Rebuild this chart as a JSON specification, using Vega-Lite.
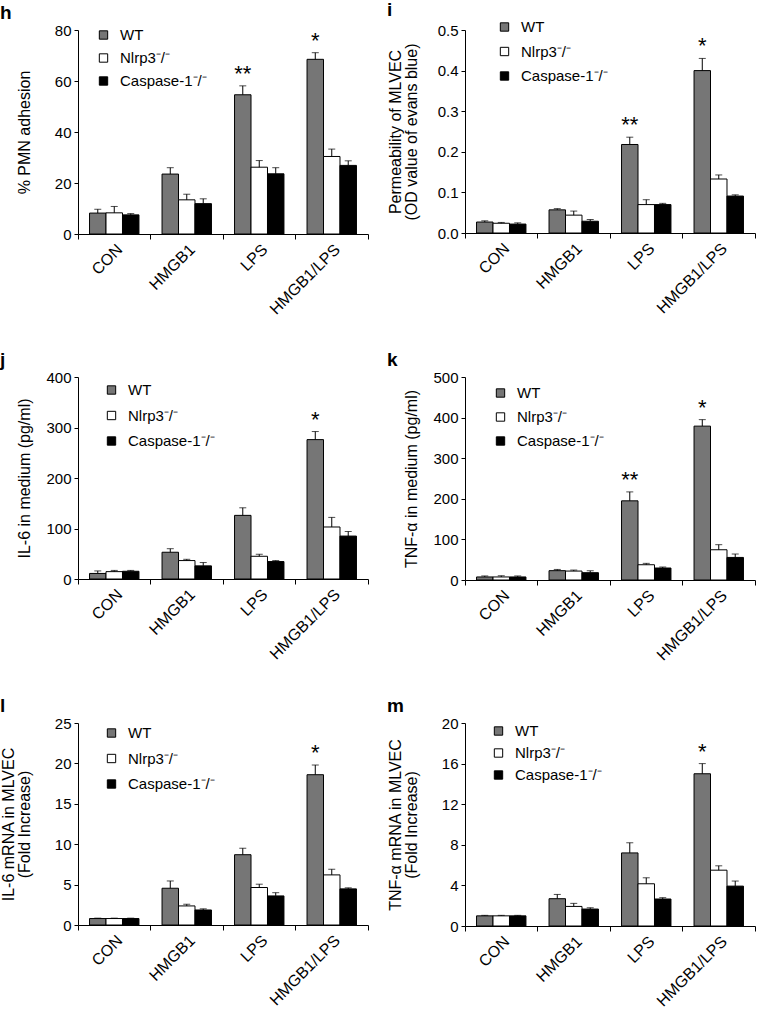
{
  "$schema": "https://vega.github.io/schema/vega-lite/v6.json",
  "background": "white",
  "padding": {"left": 0, "top": 0, "right": 0, "bottom": 0},
  "config": {
    "font": "Liberation Sans",
    "view": {"stroke": null},
    "axis": {"grid": false, "domainColor": "black", "tickColor": "black", "labelColor": "black", "titleColor": "black", "titleFontWeight": "normal", "domainWidth": 1, "tickWidth": 1},
    "title": {"color": "black"}
  },
  "datasets": {
    "h": [
      {"t": "CON", "g": "WT", "v": 8.2, "hi": 9.7},
      {"t": "CON", "g": "Nlrp3⁻/⁻", "v": 8.3, "hi": 10.8},
      {"t": "CON", "g": "Caspase-1⁻/⁻", "v": 7.5, "hi": 8.0},
      {"t": "HMGB1", "g": "WT", "v": 23.5, "hi": 26.0},
      {"t": "HMGB1", "g": "Nlrp3⁻/⁻", "v": 13.4, "hi": 15.6},
      {"t": "HMGB1", "g": "Caspase-1⁻/⁻", "v": 11.9, "hi": 13.8},
      {"t": "LPS", "g": "WT", "v": 54.6, "hi": 58.1, "sig": "**"},
      {"t": "LPS", "g": "Nlrp3⁻/⁻", "v": 26.2, "hi": 28.8},
      {"t": "LPS", "g": "Caspase-1⁻/⁻", "v": 23.6, "hi": 26.0},
      {"t": "HMGB1/LPS", "g": "WT", "v": 68.5, "hi": 71.1, "sig": "*"},
      {"t": "HMGB1/LPS", "g": "Nlrp3⁻/⁻", "v": 30.4, "hi": 33.3},
      {"t": "HMGB1/LPS", "g": "Caspase-1⁻/⁻", "v": 26.9, "hi": 28.7}
    ],
    "i": [
      {"t": "CON", "g": "WT", "v": 0.027, "hi": 0.030},
      {"t": "CON", "g": "Nlrp3⁻/⁻", "v": 0.024, "hi": 0.026},
      {"t": "CON", "g": "Caspase-1⁻/⁻", "v": 0.022, "hi": 0.025},
      {"t": "HMGB1", "g": "WT", "v": 0.057, "hi": 0.060},
      {"t": "HMGB1", "g": "Nlrp3⁻/⁻", "v": 0.044, "hi": 0.054},
      {"t": "HMGB1", "g": "Caspase-1⁻/⁻", "v": 0.029, "hi": 0.033},
      {"t": "LPS", "g": "WT", "v": 0.218, "hi": 0.236, "sig": "**"},
      {"t": "LPS", "g": "Nlrp3⁻/⁻", "v": 0.070, "hi": 0.082},
      {"t": "LPS", "g": "Caspase-1⁻/⁻", "v": 0.070, "hi": 0.073},
      {"t": "HMGB1/LPS", "g": "WT", "v": 0.400, "hi": 0.430, "sig": "*"},
      {"t": "HMGB1/LPS", "g": "Nlrp3⁻/⁻", "v": 0.133, "hi": 0.143},
      {"t": "HMGB1/LPS", "g": "Caspase-1⁻/⁻", "v": 0.091, "hi": 0.094}
    ],
    "j": [
      {"t": "CON", "g": "WT", "v": 11, "hi": 16},
      {"t": "CON", "g": "Nlrp3⁻/⁻", "v": 14.6, "hi": 17},
      {"t": "CON", "g": "Caspase-1⁻/⁻", "v": 15.3, "hi": 17},
      {"t": "HMGB1", "g": "WT", "v": 53, "hi": 60},
      {"t": "HMGB1", "g": "Nlrp3⁻/⁻", "v": 36.5, "hi": 39},
      {"t": "HMGB1", "g": "Caspase-1⁻/⁻", "v": 26, "hi": 32.6},
      {"t": "LPS", "g": "WT", "v": 126, "hi": 141},
      {"t": "LPS", "g": "Nlrp3⁻/⁻", "v": 45, "hi": 49},
      {"t": "LPS", "g": "Caspase-1⁻/⁻", "v": 34.5, "hi": 36.5},
      {"t": "HMGB1/LPS", "g": "WT", "v": 276, "hi": 292, "sig": "*"},
      {"t": "HMGB1/LPS", "g": "Nlrp3⁻/⁻", "v": 103, "hi": 122},
      {"t": "HMGB1/LPS", "g": "Caspase-1⁻/⁻", "v": 85, "hi": 94}
    ],
    "k": [
      {"t": "CON", "g": "WT", "v": 7.5, "hi": 10},
      {"t": "CON", "g": "Nlrp3⁻/⁻", "v": 7.5, "hi": 10.5},
      {"t": "CON", "g": "Caspase-1⁻/⁻", "v": 7.5, "hi": 10},
      {"t": "HMGB1", "g": "WT", "v": 23, "hi": 26},
      {"t": "HMGB1", "g": "Nlrp3⁻/⁻", "v": 22, "hi": 24.5},
      {"t": "HMGB1", "g": "Caspase-1⁻/⁻", "v": 18, "hi": 22.5},
      {"t": "LPS", "g": "WT", "v": 195, "hi": 217, "sig": "**"},
      {"t": "LPS", "g": "Nlrp3⁻/⁻", "v": 37.6, "hi": 41},
      {"t": "LPS", "g": "Caspase-1⁻/⁻", "v": 29.5, "hi": 32},
      {"t": "HMGB1/LPS", "g": "WT", "v": 379, "hi": 395, "sig": "*"},
      {"t": "HMGB1/LPS", "g": "Nlrp3⁻/⁻", "v": 74.5, "hi": 87},
      {"t": "HMGB1/LPS", "g": "Caspase-1⁻/⁻", "v": 55.6, "hi": 64}
    ],
    "l": [
      {"t": "CON", "g": "WT", "v": 0.8, "hi": 0.85},
      {"t": "CON", "g": "Nlrp3⁻/⁻", "v": 0.8, "hi": 0.85},
      {"t": "CON", "g": "Caspase-1⁻/⁻", "v": 0.8, "hi": 0.85},
      {"t": "HMGB1", "g": "WT", "v": 4.55, "hi": 5.45},
      {"t": "HMGB1", "g": "Nlrp3⁻/⁻", "v": 2.36, "hi": 2.57},
      {"t": "HMGB1", "g": "Caspase-1⁻/⁻", "v": 1.86, "hi": 2.0},
      {"t": "LPS", "g": "WT", "v": 8.7, "hi": 9.5},
      {"t": "LPS", "g": "Nlrp3⁻/⁻", "v": 4.64, "hi": 5.05},
      {"t": "LPS", "g": "Caspase-1⁻/⁻", "v": 3.6, "hi": 4.0},
      {"t": "HMGB1/LPS", "g": "WT", "v": 18.6, "hi": 19.8, "sig": "*"},
      {"t": "HMGB1/LPS", "g": "Nlrp3⁻/⁻", "v": 6.2, "hi": 6.9},
      {"t": "HMGB1/LPS", "g": "Caspase-1⁻/⁻", "v": 4.47, "hi": 4.6}
    ],
    "m": [
      {"t": "CON", "g": "WT", "v": 1.0, "hi": 1.05},
      {"t": "CON", "g": "Nlrp3⁻/⁻", "v": 1.0, "hi": 1.05},
      {"t": "CON", "g": "Caspase-1⁻/⁻", "v": 1.0, "hi": 1.05},
      {"t": "HMGB1", "g": "WT", "v": 2.69, "hi": 3.11},
      {"t": "HMGB1", "g": "Nlrp3⁻/⁻", "v": 1.93, "hi": 2.23},
      {"t": "HMGB1", "g": "Caspase-1⁻/⁻", "v": 1.67, "hi": 1.8},
      {"t": "LPS", "g": "WT", "v": 7.2, "hi": 8.2},
      {"t": "LPS", "g": "Nlrp3⁻/⁻", "v": 4.16, "hi": 4.75},
      {"t": "LPS", "g": "Caspase-1⁻/⁻", "v": 2.66, "hi": 2.79},
      {"t": "HMGB1/LPS", "g": "WT", "v": 15.0, "hi": 16.0, "sig": "*"},
      {"t": "HMGB1/LPS", "g": "Nlrp3⁻/⁻", "v": 5.5, "hi": 5.93},
      {"t": "HMGB1/LPS", "g": "Caspase-1⁻/⁻", "v": 3.93, "hi": 4.43}
    ]
  },
  "columns": 2,
  "spacing": {"row": 33, "column": 18},
  "resolve": {"scale": {"fill": "independent"}, "legend": {"fill": "independent"}},
  "concat": [
    {
      "title": {"text": "h", "anchor": "start", "frame": "group", "dx": -78, "offset": 0, "fontSize": 19, "fontWeight": "bold"},
      "width": 290, "height": 204,
      "data": {"name": "h"},
      "encoding": {
        "x": {"field": "t", "type": "nominal", "sort": ["CON", "HMGB1", "LPS", "HMGB1/LPS"], "scale": {"paddingInner": 0, "paddingOuter": 0}, "axis": {"title": null, "labelAngle": -45, "labelFontSize": 16, "tickSize": 5, "bandPosition": 1, "tickExtra": true, "labelPadding": 2}},
        "xOffset": {"field": "g", "type": "nominal", "sort": ["WT", "Nlrp3⁻/⁻", "Caspase-1⁻/⁻"], "scale": {"paddingInner": 0, "paddingOuter": 0.7}}
      },
      "layer": [
        {"mark": {"type": "bar", "stroke": "black", "strokeWidth": 1},
         "encoding": {
           "y": {"field": "v", "type": "quantitative", "scale": {"domain": [0, 80], "nice": false}, "axis": {"title": "% PMN adhesion", "values": [0, 20, 40, 60, 80], "tickSize": 4, "labelPadding": 3, "labelFontSize": 15, "minExtent": 34, "maxExtent": 34, "titleFontSize": 16, "titlePadding": 12}},
           "fill": {"field": "g", "type": "nominal", "scale": {"domain": ["WT", "Nlrp3⁻/⁻", "Caspase-1⁻/⁻"], "range": ["#767676", "#ffffff", "#000000"]}, "legend": {"orient": "none", "legendX": 18, "legendY": -2.5, "title": null, "symbolType": "square", "symbolSize": 70, "symbolStrokeColor": "black", "symbolStrokeWidth": 1, "labelFontSize": 15, "rowPadding": 7, "labelOffset": 9, "labelColor": "black"}}
         }},
        {"mark": {"type": "rule", "color": "black", "strokeWidth": 1}, "encoding": {"y": {"field": "v", "type": "quantitative"}, "y2": {"field": "hi"}}},
        {"mark": {"type": "tick", "color": "black", "thickness": 1, "size": 7}, "encoding": {"y": {"field": "hi", "type": "quantitative"}}},
        {"transform": [{"filter": "datum.sig"}], "mark": {"type": "text", "fontSize": 22, "baseline": "bottom", "dy": 0, "color": "black"}, "encoding": {"y": {"field": "hi", "type": "quantitative"}, "text": {"field": "sig"}}}
      ]
    },
    {
      "title": {"text": "i", "anchor": "start", "frame": "group", "dx": -78, "offset": 0, "fontSize": 19, "fontWeight": "bold"},
      "width": 290, "height": 203,
      "data": {"name": "i"},
      "encoding": {
        "x": {"field": "t", "type": "nominal", "sort": ["CON", "HMGB1", "LPS", "HMGB1/LPS"], "scale": {"paddingInner": 0, "paddingOuter": 0}, "axis": {"title": null, "labelAngle": -45, "labelFontSize": 16, "tickSize": 5, "bandPosition": 1, "tickExtra": true, "labelPadding": 2}},
        "xOffset": {"field": "g", "type": "nominal", "sort": ["WT", "Nlrp3⁻/⁻", "Caspase-1⁻/⁻"], "scale": {"paddingInner": 0, "paddingOuter": 0.7}}
      },
      "layer": [
        {"mark": {"type": "bar", "stroke": "black", "strokeWidth": 1},
         "encoding": {
           "y": {"field": "v", "type": "quantitative", "scale": {"domain": [0, 0.5], "nice": false}, "axis": {"title": ["Permeability of MLVEC", "(OD value of evans blue)"], "values": [0, 0.1, 0.2, 0.3, 0.4, 0.5], "format": ".1f", "tickSize": 4, "labelPadding": 3, "labelFontSize": 15, "minExtent": 34, "maxExtent": 34, "titleFontSize": 16, "titleLineHeight": 16, "titlePadding": 12}},
           "fill": {"field": "g", "type": "nominal", "scale": {"domain": ["WT", "Nlrp3⁻/⁻", "Caspase-1⁻/⁻"], "range": ["#767676", "#ffffff", "#000000"]}, "legend": {"orient": "none", "legendX": 32, "legendY": -10.5, "title": null, "symbolType": "square", "symbolSize": 70, "symbolStrokeColor": "black", "symbolStrokeWidth": 1, "labelFontSize": 15, "rowPadding": 8.5, "labelOffset": 9, "labelColor": "black"}}
         }},
        {"mark": {"type": "rule", "color": "black", "strokeWidth": 1}, "encoding": {"y": {"field": "v", "type": "quantitative"}, "y2": {"field": "hi"}}},
        {"mark": {"type": "tick", "color": "black", "thickness": 1, "size": 7}, "encoding": {"y": {"field": "hi", "type": "quantitative"}}},
        {"transform": [{"filter": "datum.sig"}], "mark": {"type": "text", "fontSize": 22, "baseline": "bottom", "dy": 0, "color": "black"}, "encoding": {"y": {"field": "hi", "type": "quantitative"}, "text": {"field": "sig"}}}
      ]
    },
    {
      "title": {"text": "j", "anchor": "start", "frame": "group", "dx": -78, "offset": 0, "fontSize": 19, "fontWeight": "bold"},
      "width": 290, "height": 202,
      "data": {"name": "j"},
      "encoding": {
        "x": {"field": "t", "type": "nominal", "sort": ["CON", "HMGB1", "LPS", "HMGB1/LPS"], "scale": {"paddingInner": 0, "paddingOuter": 0}, "axis": {"title": null, "labelAngle": -45, "labelFontSize": 16, "tickSize": 5, "bandPosition": 1, "tickExtra": true, "labelPadding": 2}},
        "xOffset": {"field": "g", "type": "nominal", "sort": ["WT", "Nlrp3⁻/⁻", "Caspase-1⁻/⁻"], "scale": {"paddingInner": 0, "paddingOuter": 0.7}}
      },
      "layer": [
        {"mark": {"type": "bar", "stroke": "black", "strokeWidth": 1},
         "encoding": {
           "y": {"field": "v", "type": "quantitative", "scale": {"domain": [0, 400], "nice": false}, "axis": {"title": "IL-6 in medium (pg/ml)", "values": [0, 100, 200, 300, 400], "tickSize": 4, "labelPadding": 3, "labelFontSize": 15, "minExtent": 34, "maxExtent": 34, "titleFontSize": 16, "titlePadding": 12}},
           "fill": {"field": "g", "type": "nominal", "scale": {"domain": ["WT", "Nlrp3⁻/⁻", "Caspase-1⁻/⁻"], "range": ["#767676", "#ffffff", "#000000"]}, "legend": {"orient": "none", "legendX": 26, "legendY": 5.5, "title": null, "symbolType": "square", "symbolSize": 70, "symbolStrokeColor": "black", "symbolStrokeWidth": 1, "labelFontSize": 15, "rowPadding": 9.5, "labelOffset": 9, "labelColor": "black"}}
         }},
        {"mark": {"type": "rule", "color": "black", "strokeWidth": 1}, "encoding": {"y": {"field": "v", "type": "quantitative"}, "y2": {"field": "hi"}}},
        {"mark": {"type": "tick", "color": "black", "thickness": 1, "size": 7}, "encoding": {"y": {"field": "hi", "type": "quantitative"}}},
        {"transform": [{"filter": "datum.sig"}], "mark": {"type": "text", "fontSize": 22, "baseline": "bottom", "dy": 0, "color": "black"}, "encoding": {"y": {"field": "hi", "type": "quantitative"}, "text": {"field": "sig"}}}
      ]
    },
    {
      "title": {"text": "k", "anchor": "start", "frame": "group", "dx": -78, "offset": 0, "fontSize": 19, "fontWeight": "bold"},
      "width": 290, "height": 203,
      "data": {"name": "k"},
      "encoding": {
        "x": {"field": "t", "type": "nominal", "sort": ["CON", "HMGB1", "LPS", "HMGB1/LPS"], "scale": {"paddingInner": 0, "paddingOuter": 0}, "axis": {"title": null, "labelAngle": -45, "labelFontSize": 16, "tickSize": 5, "bandPosition": 1, "tickExtra": true, "labelPadding": 2}},
        "xOffset": {"field": "g", "type": "nominal", "sort": ["WT", "Nlrp3⁻/⁻", "Caspase-1⁻/⁻"], "scale": {"paddingInner": 0, "paddingOuter": 0.7}}
      },
      "layer": [
        {"mark": {"type": "bar", "stroke": "black", "strokeWidth": 1},
         "encoding": {
           "y": {"field": "v", "type": "quantitative", "scale": {"domain": [0, 500], "nice": false}, "axis": {"title": "TNF-α in medium (pg/ml)", "values": [0, 100, 200, 300, 400, 500], "tickSize": 4, "labelPadding": 3, "labelFontSize": 15, "minExtent": 34, "maxExtent": 34, "titleFontSize": 16, "titlePadding": 12}},
           "fill": {"field": "g", "type": "nominal", "scale": {"domain": ["WT", "Nlrp3⁻/⁻", "Caspase-1⁻/⁻"], "range": ["#767676", "#ffffff", "#000000"]}, "legend": {"orient": "none", "legendX": 28, "legendY": 8.5, "title": null, "symbolType": "square", "symbolSize": 70, "symbolStrokeColor": "black", "symbolStrokeWidth": 1, "labelFontSize": 15, "rowPadding": 8, "labelOffset": 9, "labelColor": "black"}}
         }},
        {"mark": {"type": "rule", "color": "black", "strokeWidth": 1}, "encoding": {"y": {"field": "v", "type": "quantitative"}, "y2": {"field": "hi"}}},
        {"mark": {"type": "tick", "color": "black", "thickness": 1, "size": 7}, "encoding": {"y": {"field": "hi", "type": "quantitative"}}},
        {"transform": [{"filter": "datum.sig"}], "mark": {"type": "text", "fontSize": 22, "baseline": "bottom", "dy": 0, "color": "black"}, "encoding": {"y": {"field": "hi", "type": "quantitative"}, "text": {"field": "sig"}}}
      ]
    },
    {
      "title": {"text": "l", "anchor": "start", "frame": "group", "dx": -78, "offset": 0, "fontSize": 19, "fontWeight": "bold"},
      "width": 290, "height": 202,
      "data": {"name": "l"},
      "encoding": {
        "x": {"field": "t", "type": "nominal", "sort": ["CON", "HMGB1", "LPS", "HMGB1/LPS"], "scale": {"paddingInner": 0, "paddingOuter": 0}, "axis": {"title": null, "labelAngle": -45, "labelFontSize": 16, "tickSize": 5, "bandPosition": 1, "tickExtra": true, "labelPadding": 2}},
        "xOffset": {"field": "g", "type": "nominal", "sort": ["WT", "Nlrp3⁻/⁻", "Caspase-1⁻/⁻"], "scale": {"paddingInner": 0, "paddingOuter": 0.7}}
      },
      "layer": [
        {"mark": {"type": "bar", "stroke": "black", "strokeWidth": 1},
         "encoding": {
           "y": {"field": "v", "type": "quantitative", "scale": {"domain": [0, 25], "nice": false}, "axis": {"title": ["IL-6 mRNA in MLVEC", "(Fold Increase)"], "values": [0, 5, 10, 15, 20, 25], "tickSize": 4, "labelPadding": 3, "labelFontSize": 15, "minExtent": 34, "maxExtent": 34, "titleFontSize": 16, "titleLineHeight": 16, "titlePadding": 12}},
           "fill": {"field": "g", "type": "nominal", "scale": {"domain": ["WT", "Nlrp3⁻/⁻", "Caspase-1⁻/⁻"], "range": ["#767676", "#ffffff", "#000000"]}, "legend": {"orient": "none", "legendX": 26, "legendY": 2.5, "title": null, "symbolType": "square", "symbolSize": 70, "symbolStrokeColor": "black", "symbolStrokeWidth": 1, "labelFontSize": 15, "rowPadding": 9.5, "labelOffset": 9, "labelColor": "black"}}
         }},
        {"mark": {"type": "rule", "color": "black", "strokeWidth": 1}, "encoding": {"y": {"field": "v", "type": "quantitative"}, "y2": {"field": "hi"}}},
        {"mark": {"type": "tick", "color": "black", "thickness": 1, "size": 7}, "encoding": {"y": {"field": "hi", "type": "quantitative"}}},
        {"transform": [{"filter": "datum.sig"}], "mark": {"type": "text", "fontSize": 22, "baseline": "bottom", "dy": 0, "color": "black"}, "encoding": {"y": {"field": "hi", "type": "quantitative"}, "text": {"field": "sig"}}}
      ]
    },
    {
      "title": {"text": "m", "anchor": "start", "frame": "group", "dx": -78, "offset": 0, "fontSize": 19, "fontWeight": "bold"},
      "width": 290, "height": 203,
      "data": {"name": "m"},
      "encoding": {
        "x": {"field": "t", "type": "nominal", "sort": ["CON", "HMGB1", "LPS", "HMGB1/LPS"], "scale": {"paddingInner": 0, "paddingOuter": 0}, "axis": {"title": null, "labelAngle": -45, "labelFontSize": 16, "tickSize": 5, "bandPosition": 1, "tickExtra": true, "labelPadding": 2}},
        "xOffset": {"field": "g", "type": "nominal", "sort": ["WT", "Nlrp3⁻/⁻", "Caspase-1⁻/⁻"], "scale": {"paddingInner": 0, "paddingOuter": 0.7}}
      },
      "layer": [
        {"mark": {"type": "bar", "stroke": "black", "strokeWidth": 1},
         "encoding": {
           "y": {"field": "v", "type": "quantitative", "scale": {"domain": [0, 20], "nice": false}, "axis": {"title": ["TNF-α mRNA in MLVEC", "(Fold Increase)"], "values": [0, 4, 8, 12, 16, 20], "tickSize": 4, "labelPadding": 3, "labelFontSize": 15, "minExtent": 34, "maxExtent": 34, "titleFontSize": 16, "titleLineHeight": 16, "titlePadding": 12}},
           "fill": {"field": "g", "type": "nominal", "scale": {"domain": ["WT", "Nlrp3⁻/⁻", "Caspase-1⁻/⁻"], "range": ["#767676", "#ffffff", "#000000"]}, "legend": {"orient": "none", "legendX": 26, "legendY": 0.5, "title": null, "symbolType": "square", "symbolSize": 70, "symbolStrokeColor": "black", "symbolStrokeWidth": 1, "labelFontSize": 15, "rowPadding": 6, "labelOffset": 9, "labelColor": "black"}}
         }},
        {"mark": {"type": "rule", "color": "black", "strokeWidth": 1}, "encoding": {"y": {"field": "v", "type": "quantitative"}, "y2": {"field": "hi"}}},
        {"mark": {"type": "tick", "color": "black", "thickness": 1, "size": 7}, "encoding": {"y": {"field": "hi", "type": "quantitative"}}},
        {"transform": [{"filter": "datum.sig"}], "mark": {"type": "text", "fontSize": 22, "baseline": "bottom", "dy": 0, "color": "black"}, "encoding": {"y": {"field": "hi", "type": "quantitative"}, "text": {"field": "sig"}}}
      ]
    }
  ]
}
